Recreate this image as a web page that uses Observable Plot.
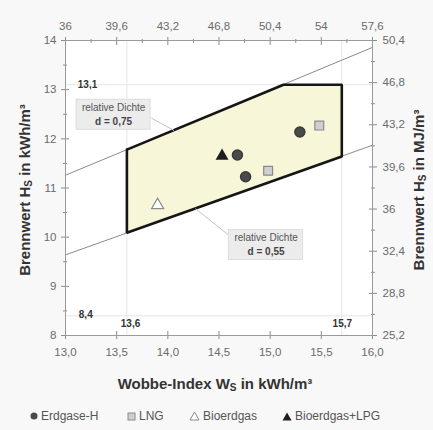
<!DOCTYPE html>
<html><head><meta charset="utf-8">
<script src="https://cdn.jsdelivr.net/npm/d3@7"></script>
<script src="https://cdn.jsdelivr.net/npm/@observablehq/plot@0.6"></script>
<style>
body{margin:0;background:#f8f8f8;font-family:"Liberation Sans",Arial,sans-serif;}
#wrap{position:relative;width:433px;height:430px;overflow:hidden;}
#legend{position:absolute;top:408px;left:0;width:433px;height:18px;font-size:12px;color:#555;}
#legend .item{position:absolute;top:0;display:flex;align-items:center;gap:3px;white-space:nowrap;line-height:16px;}
</style></head><body><div id="wrap"><div id="chart"></div><div id="legend"></div></div>
<script>
// ---- data ----
const xTicks = [13, 13.5, 14, 14.5, 15, 15.5, 16];
const xTickLabels = ["13,0","13,5","14,0","14,5","15,0","15,5","16,0"];
const xMinor = [13.25, 13.75, 14.25, 14.75, 15.25, 15.75];
const topTickLabels = ["36","39,6","43,2","46,8","50,4","54","57,6"];
const yTicks = [8, 9, 10, 11, 12, 13, 14];
const yTickLabels = ["8","9","10","11","12","13","14"];
const yMinor = [8.5, 9.5, 10.5, 11.5, 12.5, 13.5];
const rightTickLabels = ["25,2","28,8","32,4","36","39,6","43,2","46,8","50,4"];

// Gas-family limits (polygon)
const polyW = [13.6, 15.13, 15.7, 15.7, 13.6, 13.6];
const polyH = [11.78, 13.1, 13.1, 11.64, 10.09, 11.78];
// relative density lines
const densW = [13, 16];
const dens075H = [11.26, 13.86];
const dens055H = [9.64, 11.87];
// limit reference lines
const limitW = [13.6, 15.7];
const limitH = [8.4, 13.1];
const limitLabels = ["13,1", "8,4", "13,6", "15,7"];
const limitLabelW = [13.12, 13.13, 13.54, 15.61];
const limitLabelH = [13.1, 8.42, 8.24, 8.24];

// gases
const gasType = ["Erdgase-H","Erdgase-H","Erdgase-H","LNG","LNG","Bioerdgas","Bioerdgas+LPG"];
const gasW = [14.68, 14.76, 15.29, 14.98, 15.48, 13.90, 14.53];
const gasH = [11.67, 11.23, 12.14, 11.35, 12.27, 10.65, 11.65];

// density annotation boxes
const boxLine1 = ["relative Dichte", "relative Dichte"];
const boxLine2 = ["d = 0,75", "d = 0,55"];
const boxW = [13.47, 14.96];
const boxH = [12.49, 9.84];
const leaderW1 = [13.84, 14.62];
const leaderH1 = [12.42, 10.0];
const leaderW2 = [14.06, 14.27];
const leaderH2 = [12.17, 10.58];

const legendItems = ["Erdgase-H", "LNG", "Bioerdgas", "Bioerdgas+LPG"];

// ---- derived tables ----
const poly = polyW.map((w, i) => ({w, h: polyH[i]}));
const d075 = densW.map((w, i) => ({w, h: dens075H[i]}));
const d055 = densW.map((w, i) => ({w, h: dens055H[i]}));
const gases = gasType.map((t, i) => ({t, w: gasW[i], h: gasH[i]}));
const limits = limitLabels.map((l, i) => ({l, w: limitLabelW[i], h: limitLabelH[i]}));
const boxes = boxLine1.map((l, i) => ({l1: l, l2: boxLine2[i], w: boxW[i], h: boxH[i], i}));
const leaders = leaderW1.map((w, i) => ({x1: w, y1: leaderH1[i], x2: leaderW2[i], y2: leaderH2[i]}));
const rightPos = rightTickLabels.map((_, i) => 8 + i * 6 / (rightTickLabels.length - 1));
const rightMinor = rightPos.slice(1).map((p, i) => (p + rightPos[i]) / 2);

const tickColor = "#8c8c8c";
const labelColor = "#6a6a6a";

const chart = Plot.plot({
  width: 433, height: 395,
  marginTop: 40, marginBottom: 60, marginLeft: 65, marginRight: 61,
  x: {domain: [13, 16]},
  y: {domain: [8, 14]},
  style: {fontFamily: "'Liberation Sans', Arial, sans-serif", background: "transparent", fontSize: "11.5px"},
  marks: [
    Plot.frame({fill: "white", stroke: null}),
    Plot.ruleX(limitW, {stroke: "#e6e6e6", strokeWidth: 1}),
    Plot.ruleY(limitH, {stroke: "#e6e6e6", strokeWidth: 1}),
    Plot.line(d075, {x: "w", y: "h", stroke: "#8a8a8a", strokeWidth: 1, clip: true}),
    Plot.line(d055, {x: "w", y: "h", stroke: "#8a8a8a", strokeWidth: 1, clip: true}),
    Plot.line(poly, {x: "w", y: "h", fill: "#f8f6d8", stroke: "#151515", strokeWidth: 2.6, strokeLinejoin: "miter"}),
    Plot.link(leaders, {x1: "x1", y1: "y1", x2: "x2", y2: "y2", stroke: "#c4c4c4", strokeWidth: 1, ariaLabel: "leaders"}),
    Plot.dot(gases.filter(d => d.t === "Erdgase-H"), {x: "w", y: "h", r: 5, fill: "#4a4a4a", stroke: "#3a3a3a"}),
    Plot.dot(gases.filter(d => d.t === "LNG"), {x: "w", y: "h", r: 5, symbol: "square", fill: "#cfcfcf", stroke: "#8a8a8a", strokeWidth: 1.2}),
    Plot.dot(gases.filter(d => d.t === "Bioerdgas"), {x: "w", y: "h", r: 4.5, symbol: "triangle", fill: "white", stroke: "#8a8a8a", strokeWidth: 1.2}),
    Plot.dot(gases.filter(d => d.t === "Bioerdgas+LPG"), {x: "w", y: "h", r: 4.8, symbol: "triangle", fill: "#1e1e1e"}),
    Plot.text(limits, {x: "w", y: "h", text: "l", textAnchor: "start", fontSize: 10, fontWeight: "bold", fill: "#333"}),
    Plot.text(boxes, {x: "w", y: "h", text: "l1", dy: -7, fontSize: 10, fill: "#555"}),
    Plot.text(boxes, {x: "w", y: "h", text: "l2", dy: 7, fontSize: 10, fontWeight: "bold", fill: "#444"}),
    // bottom axis
    Plot.axisX({anchor: "bottom", ticks: xTicks, tickSize: 8, dy: -4, tickFormat: () => "", stroke: tickColor, label: null}),
    Plot.axisX({anchor: "bottom", ticks: xTicks, tickSize: 0, tickPadding: 12, tickFormat: d => xTickLabels[xTicks.indexOf(d)], fill: labelColor, label: null, fontSize: 11.5}),
    // top axis
    Plot.axisX({anchor: "top", ticks: xTicks, tickSize: 8, dy: 4, tickFormat: () => "", stroke: tickColor, label: null}),
    Plot.axisX({anchor: "top", ticks: xMinor, tickSize: 4, dy: 2, tickFormat: () => "", stroke: tickColor, label: null}),
    Plot.axisX({anchor: "top", ticks: xTicks, tickSize: 0, tickPadding: 11, tickFormat: d => topTickLabels[xTicks.indexOf(d)], fill: labelColor, label: null, fontSize: 11.5}),
    // left axis
    Plot.axisY({anchor: "left", ticks: yTicks, tickSize: 8, dx: 4, tickFormat: () => "", stroke: tickColor, label: null}),
    Plot.axisY({anchor: "left", ticks: yMinor, tickSize: 4, dx: 2, tickFormat: () => "", stroke: tickColor, label: null}),
    Plot.axisY({anchor: "left", ticks: yTicks, tickSize: 0, tickPadding: 9, tickFormat: d => yTickLabels[yTicks.indexOf(d)], fill: labelColor, label: null, fontSize: 11.5}),
    // right axis
    Plot.axisY({anchor: "right", ticks: rightPos, tickSize: 8, dx: -4, tickFormat: () => "", stroke: tickColor, label: null}),
    Plot.axisY({anchor: "right", ticks: rightMinor, tickSize: 4, dx: -2, tickFormat: () => "", stroke: tickColor, label: null}),
    Plot.axisY({anchor: "right", ticks: rightPos, tickSize: 0, tickPadding: 10, tickFormat: d => rightTickLabels[rightPos.indexOf(d)], fill: labelColor, label: null, fontSize: 11.5}),
    Plot.frame({stroke: "#9a9a9a", strokeWidth: 1})
  ]
});
document.getElementById("chart").appendChild(chart);
const svg = d3.select(chart);

// ---- boxes behind density labels (positioned through the plot scales) ----
const sx = chart.scale("x"), sy = chart.scale("y");
const boxLayer = svg.append("g");
boxes.forEach(b => {
  const cx = sx.apply(b.w), cy = sy.apply(b.h);
  boxLayer.append("rect")
    .attr("x", cx - 37).attr("y", cy - 15).attr("width", 74).attr("height", 30)
    .attr("fill", "#ececec").attr("stroke", "#dcdcdc");
});
// move box layer below the text marks
const texts = Array.from(chart.querySelectorAll("text")).filter(t => t.textContent === "relative Dichte");
if (texts.length) {
  let g = texts[0];
  while (g.parentNode && g.parentNode !== chart) g = g.parentNode;
  chart.insertBefore(boxLayer.node(), g);
}

// ---- axis titles with subscripts ----
function title(x, y, rot, main, sub, rest) {
  const t = svg.append("text")
    .attr("transform", `translate(${x},${y}) rotate(${rot})`)
    .attr("text-anchor", "middle").attr("dominant-baseline", "central")
    .attr("font-family", "'Liberation Sans', Arial, sans-serif")
    .attr("font-size", 15).attr("font-weight", "bold").attr("fill", "#333");
  t.append("tspan").text(main);
  t.append("tspan").attr("font-size", 10).attr("dy", 4).text(sub);
  t.append("tspan").attr("dy", -4).text(rest);
}
title(215, 383, 0, "Wobbe-Index W", "S", " in kWh/m³");
title(24, 190, -90, "Brennwert H", "S", " in kWh/m³");
title(418, 190, -90, "Brennwert H", "S", " in MJ/m³");

// ---- legend ----
const legendX = [30, 127, 189, 282];
const symSvg = [
  '<svg width="8" height="8"><circle cx="4" cy="4" r="3.5" fill="#4a4a4a"/></svg>',
  '<svg width="9" height="9"><rect x="1" y="1" width="7" height="7" fill="#cfcfcf" stroke="#8a8a8a"/></svg>',
  '<svg width="11" height="10"><path d="M5.5,1 L10,9 L1,9 Z" fill="white" stroke="#8a8a8a"/></svg>',
  '<svg width="10" height="9"><path d="M5,0.5 L9.5,8.5 L0.5,8.5 Z" fill="#1e1e1e"/></svg>'
];
const leg = document.getElementById("legend");
legendItems.forEach((name, i) => {
  const s = document.createElement("span");
  s.className = "item";
  s.style.left = legendX[i] + "px";
  s.innerHTML = symSvg[i] + "<span>" + name + "</span>";
  leg.appendChild(s);
});
</script></body></html>
